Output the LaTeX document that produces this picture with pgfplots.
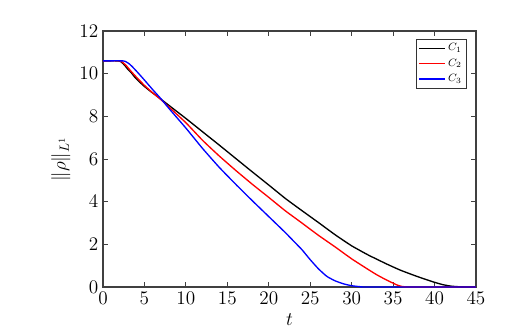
\documentclass[border=0pt]{standalone}
\usepackage{pgfplots}
\pgfplotsset{compat=1.18}
\begin{document}
\begin{tikzpicture}
\begin{axis}[
  scale only axis, width=279.75pt, height=192pt,
  xmin=0, xmax=45, ymin=0, ymax=12,
  xtick={0,5,...,45}, ytick={0,2,...,12},
  axis line style={line width=0.9pt, black!75},
  tick style={line width=0.6pt, black!75},
  major tick length=3.5pt,
  tick label style={font=\fontsize{13.5}{16}\selectfont},
  label style={font=\fontsize{14}{17}\selectfont},
  xlabel={$t$}, ylabel={$\|\rho\|_{L^1}$},
  legend style={at={(0.975,0.97)}, anchor=north east, font=\fontsize{8.5}{10}\selectfont,
    draw=black!80, line width=0.5pt, inner sep=1.5pt, row sep=0.5pt},
  legend cell align=left,
  legend image code/.code={\draw[#1] (0pt,0pt) -- (19pt,0pt);},
]
\addplot[black, line width=1pt, smooth, tension=0.3] coordinates {(0,10.6)(1.8,10.6)(2.2,10.55)(2.6,10.4)(3.0,10.2)(3.4,10.05)(3.8,9.85)(4.3,9.65)(5,9.4)(5.8,9.15)(6.6,8.92)(8,8.5)(10,7.9)(12,7.28)(14,6.66)(16,6.03)(18,5.4)(20,4.78)(22,4.15)(24,3.58)(26,3.02)(28,2.45)(30,1.93)(32,1.5)(34,1.12)(35,0.94)(36,0.77)(38,0.48)(40,0.22)(41,0.11)(42,0.04)(43,0.01)(44,0)(45,0)};
\addlegendentry{$C_1$}
\addplot[red, line width=1pt, smooth, tension=0.3] coordinates {(0,10.6)(2.0,10.6)(2.4,10.52)(2.8,10.38)(3.3,10.15)(4,9.85)(5,9.45)(6,9.1)(7,8.78)(8,8.42)(10,7.7)(12,6.88)(14,6.15)(16,5.47)(18,4.82)(20,4.2)(22,3.57)(24,3.0)(26,2.42)(28,1.88)(30,1.32)(32,0.82)(33,0.58)(34,0.37)(35,0.18)(35.5,0.09)(36,0.03)(36.5,0.005)(37,0)(45,0)};
\addlegendentry{$C_2$}
\addplot[blue, line width=1pt, smooth, tension=0.3] coordinates {(0,10.6)(2.4,10.6)(2.8,10.55)(3.2,10.45)(3.6,10.3)(4.2,10.05)(5,9.7)(6,9.25)(7,8.82)(8,8.35)(10,7.45)(12,6.5)(14,5.62)(16,4.82)(18,4.05)(20,3.3)(22,2.55)(23,2.15)(24,1.75)(25,1.28)(26,0.85)(27,0.5)(28,0.29)(29,0.15)(30,0.06)(31,0.015)(32,0)(45,0)};
\addlegendentry{$C_3$}
\end{axis}
\pgfresetboundingbox
\path (current axis.south west) ++(-77.25pt,-34.5pt) coordinate (bl);
\path (current axis.north east) ++(36.75pt,23.25pt) coordinate (tr);
\useasboundingbox (bl) rectangle (tr);
\end{tikzpicture}
\end{document}
